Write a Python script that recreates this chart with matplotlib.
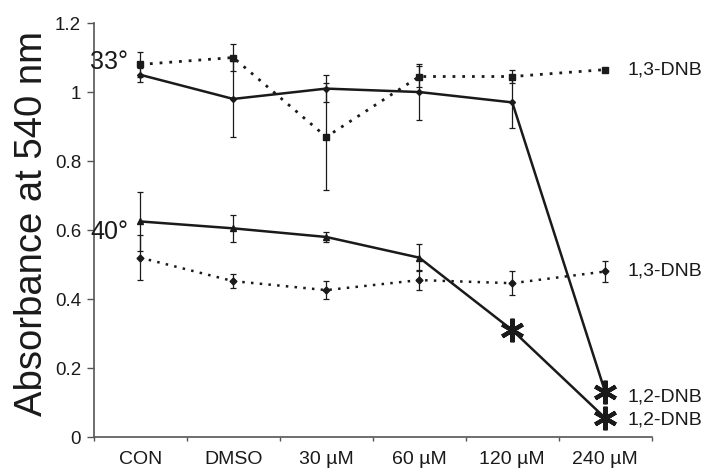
import numpy as np
import matplotlib
matplotlib.use("Agg")
import matplotlib.pyplot as plt

plt.rcParams['font.family'] = ['Liberation Sans', 'DejaVu Sans']

# data
categories = ["CON", "DMSO", "30 \u00b5M", "60 \u00b5M", "120 \u00b5M", "240 \u00b5M"]

dnb12_33 = [1.05, 0.98, 1.01, 1.00, 0.97, 0.13]
dnb12_33_err = [0.02, 0.11, 0.04, 0.08, 0.075, 0.0]
dnb13_33 = [1.08, 1.10, 0.87, 1.045, 1.045, 1.065]
dnb13_33_err = [0.035, 0.04, 0.155, 0.03, 0.02, 0.0]

dnb12_40 = [0.625, 0.605, 0.58, 0.52, 0.31, 0.055]
dnb12_40_err = [0.085, 0.04, 0.015, 0.04, 0.0, 0.0]
dnb13_40 = [0.52, 0.452, 0.426, 0.455, 0.446, 0.48]
dnb13_40_err = [0.065, 0.02, 0.025, 0.03, 0.035, 0.03]

# points marked as significant (asterisk)
star_12_33 = [5]
star_12_40 = [4, 5]

INK = "#1a1a1a"

fig = plt.figure(figsize=(7.1, 4.7), dpi=100)
ax = fig.add_axes([0.132, 0.070, 0.786, 0.881])
x = np.arange(len(categories))

eb = dict(color=INK, elinewidth=0.9, capsize=2.5, capthick=0.9)
ax.errorbar(x, dnb12_33, yerr=dnb12_33_err, linestyle="-", linewidth=1.8,
            marker="D", markersize=3, **eb)
ax.errorbar(x, dnb13_33, yerr=dnb13_33_err, linestyle=(0, (1, 2.5)), linewidth=2.0,
            marker="s", markersize=5, **eb)
ax.errorbar(x, dnb12_40, yerr=dnb12_40_err, linestyle="-", linewidth=1.8,
            marker="^", markersize=4, **eb)
ax.errorbar(x, dnb13_40, yerr=dnb13_40_err, linestyle=(0, (1, 2.5)), linewidth=1.8,
            marker="D", markersize=3.5, **eb)

# asterisks
ax.plot(x[star_12_33], np.array(dnb12_33)[star_12_33], linestyle="none",
        marker=(6, 2, 0), markersize=17, markeredgewidth=3, color=INK)
ax.plot(x[star_12_40], np.array(dnb12_40)[star_12_40], linestyle="none",
        marker=(6, 2, 0), markersize=17, markeredgewidth=3, color=INK)

# series labels on the right
lab_kw = dict(fontsize=14, color=INK, va="center", ha="left", clip_on=False)
ax.text(5.24, dnb13_33[-1], "1,3-DNB", **lab_kw)
ax.text(5.24, dnb13_40[-1], "1,3-DNB", **lab_kw)
ax.text(5.24, dnb12_33[-1] - 0.015, "1,2-DNB", **lab_kw)
ax.text(5.24, dnb12_40[-1] - 0.005, "1,2-DNB", **lab_kw)

ax.text(-0.535, 1.087, "33\u00b0", fontsize=18, color=INK, ha="left", va="center")
ax.text(-0.535, 0.594, "40\u00b0", fontsize=18, color=INK, ha="left", va="center")

ax.set_xlim(-0.5, 5.5)
ax.set_ylim(0, 1.2)
ax.set_yticks([0, 0.2, 0.4, 0.6, 0.8, 1.0, 1.2])
ax.set_yticklabels(["0", "0.2", "0.4", "0.6", "0.8", "1", "1.2"], fontsize=13.5, color=INK)
ax.set_xticks(x)
ax.set_xticklabels(categories, fontsize=14, color=INK)
ax.set_xticks(np.arange(-0.5, 5.6, 1.0), minor=True)
ax.tick_params(axis="x", which="major", length=0, pad=10)
ax.tick_params(axis="x", which="minor", length=3, width=1, color="#555555", direction="out")
ax.tick_params(axis="y", length=5, width=1, color="#555555", pad=4)
ax.set_ylabel("Absorbance at 540 nm", fontsize=27.5, color=INK)
ax.yaxis.set_label_coords(-0.079, 0.515)

for s in ["top", "right"]:
    ax.spines[s].set_visible(False)
for s in ["left", "bottom"]:
    ax.spines[s].set_color("#555555")
    ax.spines[s].set_linewidth(1.2)

fig.savefig("out.png", dpi=100)
